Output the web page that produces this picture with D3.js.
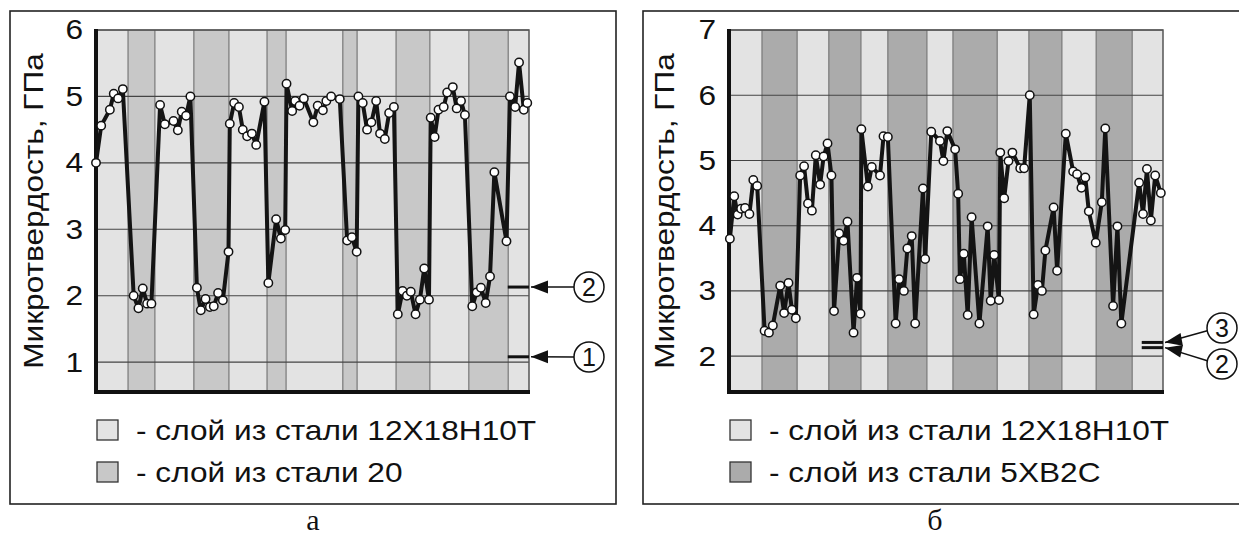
<!DOCTYPE html>
<html><head><meta charset="utf-8">
<script src="https://cdn.jsdelivr.net/npm/d3@7"></script>
<style>
html,body{margin:0;padding:0;background:#fff;}
svg{display:block;}
</style></head>
<body>
<script>
// ---------- data ----------
// positions along the scan (0..100 % of the scanned length) and microhardness, GPa
const leftPos = [0,1.2,3.2,4.1,5.1,6.2,8.7,9.8,10.8,11.8,12.8,14.8,15.9,17.9,18.9,19.8,20.8,21.8,23.3,24.2,25.3,26.3,27.2,28.2,29.3,30.6,30.9,31.9,33.0,33.9,34.9,36.0,37.0,38.9,39.8,41.6,42.7,43.7,44.0,45.3,46.0,47.0,48.0,50.2,51.2,52.4,53.2,54.3,56.3,58.0,59.1,60.2,60.6,61.6,62.6,63.6,64.7,65.6,66.7,67.7,68.8,69.7,70.8,71.8,72.7,73.8,74.8,75.8,76.9,77.3,78.2,79.1,80.3,81.1,82.4,83.3,84.3,85.2,86.9,87.9,88.9,90.0,91.0,92.0,94.8,95.6,96.8,97.7,98.8,99.6];
const leftHV = [4.0,4.56,4.80,5.04,4.97,5.11,2.0,1.81,2.11,1.88,1.88,4.87,4.58,4.63,4.49,4.77,4.71,5.0,2.12,1.78,1.95,1.83,1.84,2.04,1.93,2.66,4.59,4.90,4.84,4.50,4.40,4.44,4.27,4.92,2.19,3.15,2.86,2.99,5.19,4.78,4.93,4.86,4.97,4.61,4.86,4.79,4.93,5.00,4.96,2.83,2.88,2.66,5.0,4.90,4.50,4.61,4.93,4.44,4.36,4.75,4.84,1.72,2.07,2.0,2.06,1.72,1.94,2.41,1.94,4.68,4.39,4.80,4.84,5.06,5.14,4.82,4.93,4.72,1.84,2.05,2.12,1.89,2.29,3.86,2.82,5.0,4.84,5.51,4.80,4.90];
const leftBandEdges = [0,7.4,13.6,22.6,30.7,39.5,43.9,57.0,60.3,69.3,77.1,86.1,95.2,100];
const leftTicks = [1,2,3,4,5,6];
const leftRefValues = [2.13,1.08];
const leftRefLabels = ["2","1"];
const leftLegend = ["- слой из стали 12Х18Н10Т","- слой из стали 20"];

const rightPos = [0.2,1.2,2.0,2.8,3.7,4.7,5.6,6.5,8.2,9.2,10.1,11.8,12.7,13.7,14.5,15.4,16.4,17.3,18.2,19.1,20.0,21.0,21.8,22.7,23.6,24.2,25.4,26.4,27.3,28.7,29.5,30.3,30.5,32.0,32.9,34.8,35.6,36.6,38.4,39.2,40.3,41.1,42.1,42.9,44.7,45.2,46.6,48.6,49.4,50.3,52.1,52.8,53.2,54.1,55.0,55.9,57.7,59.6,60.3,61.1,62.2,62.5,63.4,64.4,65.3,67.1,68.0,69.3,70.2,71.2,72.1,72.9,74.8,75.6,77.6,79.3,80.2,81.2,82.1,82.9,84.5,85.9,86.7,88.5,89.5,90.4,94.5,95.4,96.3,97.2,98.2,99.5];
const rightHV = [3.80,4.45,4.17,4.26,4.27,4.18,4.70,4.61,2.39,2.36,2.47,3.08,2.66,3.12,2.71,2.58,4.77,4.91,4.34,4.23,5.08,4.63,5.06,5.26,4.77,2.69,3.88,3.77,4.06,2.36,3.20,2.65,5.48,4.60,4.90,4.77,5.37,5.36,2.50,3.18,3.00,3.65,3.84,2.50,4.57,3.49,5.44,5.30,4.99,5.45,5.17,4.49,3.18,3.57,2.63,4.13,2.50,3.99,2.85,3.55,2.86,5.12,4.42,4.99,5.12,4.88,4.88,6.0,2.64,3.09,3.0,3.62,4.28,3.31,5.41,4.83,4.79,4.58,4.74,4.22,3.74,4.36,5.49,2.77,3.99,2.50,4.66,4.18,4.87,4.08,4.77,4.50];
const rightBandEdges = [0,7.6,15.7,23.0,30.4,36.6,45.6,51.6,61.8,69.1,76.7,84.6,92.9,100];
const rightTicks = [2,3,4,5,6,7];
const rightRefValues = [2.21,2.13];
const rightRefLabels = ["3","2"];
const rightLegend = ["- слой из стали 12Х18Н10Т","- слой из стали 5ХВ2С"];

const yLabel = "Микротвердость, ГПа";
const panelLetters = ["а","б"];

// ---------- drawing ----------
const svg = d3.select("body").append("svg").attr("width",1239).attr("height",536);
const FONT = "'Liberation Sans', Arial, sans-serif";
const SX = 1.13; // horizontal widening of the sans glyphs seen in the original

function wideText(parent, x, y, txt, size, anchor, rot){
  const g = parent.append("g").attr("transform",`translate(${x},${y})${rot?` rotate(${rot})`:""} scale(${SX},1)`);
  return g.append("text").attr("x",0).attr("y",0).attr("text-anchor",anchor||"start")
    .attr("font-family",FONT).attr("font-size",size).attr("fill","#111").text(txt);
}

function panel(o){
  const g = svg.append("g");
  g.append("rect").attr("x",o.frame[0]).attr("y",o.frame[1]).attr("width",o.frame[2]).attr("height",o.frame[3])
    .attr("fill","none").attr("stroke","#222").attr("stroke-width",1.6);

  const x = d3.scaleLinear().domain([0,100]).range([o.x0,o.x1]);
  const y = d3.scaleLinear().domain(o.ydom).range([o.y1,o.y0]);

  const bands = d3.pairs(o.bands).map((p,i)=>({a:p[0],b:p[1],dark:i%2===1}));
  g.selectAll(".band").data(bands).join("rect")
    .attr("x",d=>x(d.a)).attr("y",o.y0).attr("width",d=>x(d.b)-x(d.a)).attr("height",o.y1-o.y0)
    .attr("fill",d=>d.dark?o.dark:"#e3e3e3");
  g.selectAll(".vl").data(o.bands.slice(1,-1)).join("line")
    .attr("x1",d=>x(d)).attr("x2",d=>x(d)).attr("y1",o.y0).attr("y2",o.y1)
    .attr("stroke","#777").attr("stroke-width",1.2);
  g.selectAll(".hl").data(o.ticks).join("line")
    .attr("x1",o.x0).attr("x2",o.x1).attr("y1",d=>y(d)).attr("y2",d=>y(d))
    .attr("stroke","#444").attr("stroke-width",1.1);
  g.append("path").attr("d",`M${o.x0},${o.y0}H${o.x1}V${o.y1}`).attr("fill","none")
    .attr("stroke","#555").attr("stroke-width",1.5);

  const ax = d3.axisLeft(y).tickValues(o.ticks).tickSize(0).tickPadding(0).tickFormat(d3.format("d"));
  const axG = g.append("g").attr("transform",`translate(${o.x0},0)`).call(ax);
  axG.select(".domain").remove();
  axG.selectAll("text").attr("font-family",FONT).attr("font-size",28).attr("fill","#111")
    .attr("x",-13/SX).attr("transform",`scale(${SX},1)`);
  g.append("line").attr("x1",o.x0).attr("x2",o.x0).attr("y1",o.y0-1).attr("y2",o.y1+2)
    .attr("stroke","#111").attr("stroke-width",4);
  g.append("line").attr("x1",o.x0-2).attr("x2",o.x1+1).attr("y1",o.y1).attr("y2",o.y1)
    .attr("stroke","#111").attr("stroke-width",4);

  wideText(g, o.labelX, (o.y0+o.y1)/2, yLabel, 28, "middle", -90);

  const pts = o.pos.map((p,i)=>[p,o.hv[i]]);
  g.append("path").datum(pts).attr("d",d3.line().x(d=>x(d[0])).y(d=>y(d[1])))
    .attr("fill","none").attr("stroke","#141414").attr("stroke-width",4).attr("stroke-linejoin","round");
  g.selectAll(".pt").data(pts).join("circle")
    .attr("cx",d=>x(d[0])).attr("cy",d=>y(d[1])).attr("r",4.2)
    .attr("fill","#fff").attr("stroke","#111").attr("stroke-width",1.5);

  g.selectAll(".ref").data(o.refs).join("line")
    .attr("x1",x(95.1)).attr("x2",o.x1).attr("y1",d=>y(d)).attr("y2",d=>y(d))
    .attr("stroke","#111").attr("stroke-width",3);
  o.refs.forEach((v,i)=>{
    const ty = y(v);
    const c = o.circles[i];
    const tipX = o.x1+2;
    const ang = Math.atan2(c[1]-ty + (o.angled? (i===0?4:-4):0), c[0]-tipX);
    const sx = c[0]-15*Math.cos(ang), sy = c[1]-15*Math.sin(ang);
    g.append("line").attr("x1",tipX).attr("y1",ty).attr("x2",sx).attr("y2",sy)
      .attr("stroke","#111").attr("stroke-width",1.5);
    const L=17, Wd=6.5;
    const ux=Math.cos(ang), uy=Math.sin(ang);
    const bx=tipX+ux*L, by=ty+uy*L;
    g.append("path").attr("d",`M${tipX},${ty}L${bx-uy*Wd},${by+ux*Wd}L${bx+uy*Wd},${by-ux*Wd}Z`).attr("fill","#111");
    g.append("circle").attr("cx",c[0]).attr("cy",c[1]).attr("r",15).attr("fill","#fff")
      .attr("stroke","#111").attr("stroke-width",1.5);
    g.append("text").attr("x",c[0]).attr("y",c[1]+9).attr("text-anchor","middle")
      .attr("font-family",FONT).attr("font-size",25).attr("fill","#111").text(o.refLabels[i]);
  });

  o.legend.forEach((t,i)=>{
    const ly = 430 + i*42;
    g.append("rect").attr("x",o.x0+1).attr("y",ly-10).attr("width",21).attr("height",20)
      .attr("fill",i===0?"#e3e3e3":o.dark).attr("stroke","#333").attr("stroke-width",1.3);
    wideText(g, o.x0+40, ly+10, t, 28, "start");
  });
  g.append("text").attr("x",o.letterX).attr("y",530).attr("text-anchor","middle")
    .attr("font-family","'Liberation Serif', 'Times New Roman', serif").attr("font-size",30).attr("fill","#111").text(o.letter);
}

panel({frame:[10,11,606,493], x0:96, x1:529, y0:30, y1:392, ydom:[0.55,6], ticks:leftTicks,
  bands:leftBandEdges, dark:"#c8c8c8", pos:leftPos, hv:leftHV, refs:leftRefValues, refLabels:leftRefLabels,
  circles:[[589,287],[589,357]], angled:false, legend:leftLegend, labelX:43, letter:panelLetters[0], letterX:313});
panel({frame:[643,11,600,493], x0:729, x1:1163, y0:30, y1:392, ydom:[1.45,7], ticks:rightTicks,
  bands:rightBandEdges, dark:"#ababab", pos:rightPos, hv:rightHV, refs:rightRefValues, refLabels:rightRefLabels,
  circles:[[1222,328],[1222,364]], angled:true, legend:rightLegend, labelX:674, letter:panelLetters[1], letterX:935});
</script>
</body></html>
